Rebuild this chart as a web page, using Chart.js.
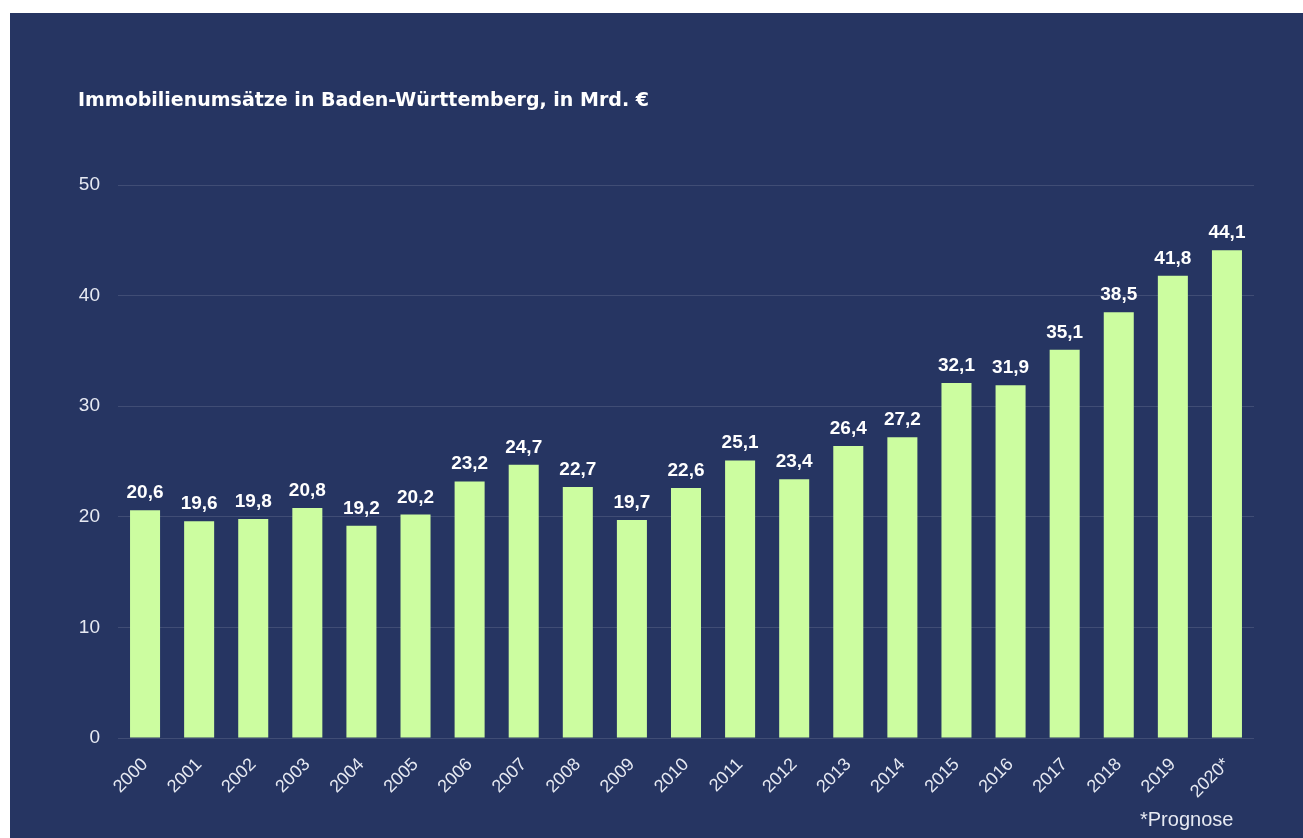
<!DOCTYPE html>
<html>
<head>
<meta charset="utf-8">
<script src="https://cdn.jsdelivr.net/npm/chart.js@4"></script>
<style>
  html, body { margin: 0; padding: 0; background: #ffffff; }
  #wrap { width: 1303px; height: 838px; position: relative; }
</style>
</head>
<body>
<div id="wrap"><canvas id="myChart" width="1303" height="838"></canvas></div>
<script>
const years = ['2000', '2001', '2002', '2003', '2004', '2005', '2006', '2007', '2008', '2009', '2010',
    '2011', '2012', '2013', '2014', '2015', '2016', '2017', '2018', '2019', '2020*'];
const umsatz = [20.6, 19.6, 19.8, 20.8, 19.2, 20.2, 23.2, 24.7, 22.7, 19.7, 22.6,
    25.1, 23.4, 26.4, 27.2, 32.1, 31.9, 35.1, 38.5, 41.8, 44.1];
const yTicks = [0, 10, 20, 30, 40, 50];
const titleText = 'Immobilienumsätze in Baden-Württemberg, in Mrd. €';
const footText = '*Prognose';

const navy = '#263562';

// navy panel, title, footnote
const panel = {
    id: 'panel',
    beforeDraw(chart) {
        const c = chart.ctx;
        c.save();
        c.fillStyle = navy;
        c.fillRect(10, 13, chart.width - 10, chart.height - 13);
        c.restore();
    },
    afterDraw(chart) {
        const c = chart.ctx;
        c.save();
        c.fillStyle = '#ffffff';
        c.textBaseline = 'middle';
        c.font = 'bold 19px "DejaVu Sans", sans-serif';
        c.fillText(titleText, 78, 101);
        c.fillStyle = '#e6e9f2';
        c.font = '20px "Liberation Sans", Arial, sans-serif';
        c.fillText(footText, 1140, 820);
        c.restore();
    }
};

// value labels above bars
const valueLabels = {
    id: 'valueLabels',
    afterDatasetsDraw(chart) {
        const c = chart.ctx;
        const meta = chart.getDatasetMeta(0);
        c.save();
        c.fillStyle = '#ffffff';
        c.font = 'bold 19px "Liberation Sans", Arial, sans-serif';
        c.textAlign = 'center';
        c.textBaseline = 'alphabetic';
        meta.data.forEach((bar, i) => {
            c.fillText(umsatz[i].toFixed(1).replace('.', ','), bar.x, bar.y - 12);
        });
        c.restore();
    }
};

new Chart(document.getElementById('myChart'), {
    type: 'bar',
    data: {
        labels: years,
        datasets: [{
            label: 'Umsatz',
            data: umsatz,
            backgroundColor: '#ccfda0',
            categoryPercentage: 1,
            barPercentage: 0.555
        }]
    },
    options: {
        responsive: false,
        animation: false,
        layout: { padding: { left: 60, right: 49, top: 185, bottom: 40 } },
        plugins: {
            legend: { display: false },
            tooltip: { enabled: false }
        },
        scales: {
            x: {
                grid: { display: false },
                border: { display: false },
                afterFit: s => { s.height = 60; },
                ticks: {
                    color: '#e6e9f2',
                    font: { family: '"Liberation Sans", Arial, sans-serif', size: 18 },
                    maxRotation: 45,
                    minRotation: 45,
                    autoSkip: false,
                    padding: 8
                }
            },
            y: {
                min: 0,
                max: 50,
                afterFit: s => { s.width = 58; },
                afterBuildTicks: s => { s.ticks = yTicks.map(v => ({ value: v })); },
                grid: { color: 'rgba(255,255,255,0.12)', drawTicks: false },
                border: { display: false },
                ticks: {
                    color: '#e6e9f2',
                    font: { family: '"Liberation Sans", Arial, sans-serif', size: 19 },
                    padding: 18
                }
            }
        }
    },
    plugins: [panel, valueLabels]
});
</script>
</body>
</html>
